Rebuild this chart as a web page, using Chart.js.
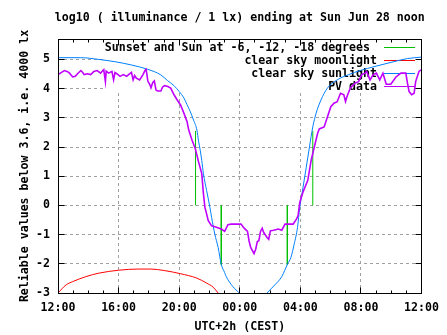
<!DOCTYPE html>
<html>
<head>
<meta charset="utf-8">
<script src="https://cdn.jsdelivr.net/npm/chart.js@4.4.1/dist/chart.umd.min.js"></script>
<style>
  html, body { margin: 0; padding: 0; background: #fff; }
  #wrap { width: 447px; height: 335px; position: relative; }
</style>
</head>
<body>
<div id="wrap"><canvas id="lux"></canvas></div>
<script>
// x values are hours after 12:00 (noon) on the previous day
const xTickHours = [0, 4, 8, 12, 16, 20, 24];
const xTickLabels = ["12:00", "16:00", "20:00", "00:00", "04:00", "08:00", "12:00"];
const yTicks = [-3, -2, -1, 0, 1, 2, 3, 4, 5];

// sunset, sun at -6 (dusk), sun at -6 (dawn), sunrise
const sunMarkHours = [9.08, 10.78, 15.14, 16.82];
const sunMarkTops = [2.55, -2.03, -2.03, 2.55];

const moonHours = [0, 0.54, 0.97, 1.84, 2.70, 4.0, 5.29, 6.13, 7.01, 8.09, 9.16, 9.81, 10.24, 10.57];
const moonLog = [-3.0, -2.72, -2.61, -2.44, -2.32, -2.22, -2.18, -2.18, -2.23, -2.34, -2.49, -2.66, -2.8, -3.0];

const sunHours = [0, 1.5, 2.7, 3.78, 4.85, 5.93, 6.79, 7.22, 7.66, 8.0, 8.31, 8.52, 8.74, 8.95, 9.17, 9.28,
  9.39, 9.49, 9.60, 9.81, 10.03, 10.14, 10.35, 10.57, 10.78, 11.0, 11.11, 11.54, 11.97, 12.9,
  13.80, 14.32, 14.77, 15.16, 15.37, 15.59, 15.81, 15.96, 16.17, 16.39, 16.60, 16.82, 17.04, 17.36,
  17.79, 18.43, 19.19, 19.95, 20.92, 21.99, 23.07, 24];
const sunLog = [5.06, 5.06, 5.0, 4.92, 4.81, 4.66, 4.47, 4.28, 4.1, 3.9, 3.68, 3.45, 3.2, 2.92, 2.58, 2.2,
  1.89, 1.54, 1.09, 0.51, -0.07, -0.41, -0.98, -1.44, -2.02, -2.3, -2.44, -2.78, -3.0, -3.6,
  -3.0, -2.72, -2.44, -2.0, -1.79, -1.33, -0.76, -0.07, 0.6, 1.31, 2.0, 2.69, 3.16, 3.61,
  4.02, 4.30, 4.48, 4.62, 4.76, 4.9, 5.03, 5.08];

const pvHours = [0, 0.21, 0.43, 0.63, 0.76, 0.97, 1.14, 1.29, 1.51, 1.63, 1.73, 1.94, 2.16, 2.37, 2.59, 2.81,
  2.96, 3.02, 3.13, 3.18, 3.34, 3.56, 3.67, 3.76, 3.88, 4.10, 4.31, 4.53, 4.70, 4.85, 4.96, 5.06,
  5.17, 5.39, 5.61, 5.74, 5.82, 5.93, 6.06, 6.14, 6.25, 6.36, 6.47, 6.58, 6.79, 6.90, 7.03, 7.22,
  7.44, 7.66, 7.87, 8.09, 8.31, 8.52, 8.63, 8.85, 9.06, 9.28, 9.49, 9.60, 9.70, 9.81, 9.92, 10.14,
  10.46, 10.78, 11.00, 11.22, 11.43, 12.08, 12.29, 12.51, 12.61, 12.72, 12.94, 13.05, 13.16, 13.26,
  13.37, 13.48, 13.58, 13.80, 13.91, 14.02, 14.23, 14.55, 14.77, 14.99, 15.52, 15.74, 15.85, 15.96,
  16.17, 16.49, 16.71, 16.92, 17.14, 17.25, 17.57, 17.79, 18.01, 18.22, 18.43, 18.65, 18.87, 18.98,
  19.08, 19.30, 19.62, 19.84, 20.05, 20.27, 20.37, 20.60, 20.81, 21.02, 21.24, 21.45, 21.67, 21.97,
  22.31, 22.64, 22.96, 23.07, 23.18, 23.35, 23.51, 23.61, 23.83, 24.0];
const pvLog = [4.48, 4.55, 4.62, 4.58, 4.53, 4.40, 4.42, 4.51, 4.62, 4.55, 4.48, 4.51, 4.48, 4.59, 4.62, 4.53,
  4.62, 4.65, 4.24, 4.60, 4.53, 4.59, 4.30, 4.55, 4.51, 4.42, 4.48, 4.42, 4.50, 4.56, 4.30, 4.45,
  4.36, 4.30, 4.48, 4.62, 4.66, 4.26, 4.14, 4.03, 4.20, 4.26, 3.95, 3.92, 3.92, 4.05, 4.10, 4.08,
  4.02, 3.79, 3.61, 3.44, 3.16, 2.87, 2.58, 2.23, 1.95, 1.49, 1.09, 0.40, -0.07, -0.29, -0.52, -0.70,
  -0.75, -0.81, -0.89, -0.66, -0.64, -0.64, -0.78, -0.89, -1.21, -1.44, -1.65, -1.50, -1.24, -1.21,
  -0.89, -0.78, -0.93, -1.10, -1.16, -0.87, -0.85, -0.81, -0.85, -0.64, -0.64, -0.47, -0.35, 0.10,
  0.45, 0.86, 1.54, 2.00, 2.47, 2.62, 2.69, 3.04, 3.38, 3.50, 3.55, 3.84, 3.79, 3.56,
  3.73, 4.02, 4.19, 4.24, 4.48, 4.53, 4.59, 4.30, 4.48, 4.53, 4.30, 4.53, 4.15, 4.15,
  4.40, 4.53, 4.53, 4.19, 3.90, 3.79, 3.84, 4.24, 4.59, 4.65];

const legendLabels = ["Sunset and Sun at -6, -12, -18 degrees ", "clear sky moonlight", "clear sky sunlight", "PV data"];
const seriesColors = ["#00c000", "#ff0000", "#0080ff", "#c000ff"];

const FONT = { family: "'DejaVu Sans Mono', monospace", size: 11.6, weight: "bold" };
const fontStr = "bold 11.6px 'DejaVu Sans Mono', monospace";

const pts = (xs, ys) => xs.map((h, i) => ({ x: h, y: ys[i] }));

const sunMarks = [];
sunMarkHours.forEach((h, i) => {
    sunMarks.push({ x: h, y: 0 }, { x: h, y: sunMarkTops[i] }, { x: h, y: null });
});

// key box (opaque), title, border and tics in gnuplot style
const gnuFrame = {
    id: "gnuFrame",
    beforeDatasetsDraw(chart) {
        const ctx = chart.ctx;
        const a = chart.chartArea;
        ctx.save();
        // key background hides the grid
        ctx.fillStyle = "#fff";
        ctx.fillRect(105, a.top, a.right - 105, 92 - a.top);
        ctx.font = fontStr;
        ctx.textBaseline = "middle";
        ctx.textAlign = "right";
        ctx.fillStyle = "#000";
        legendLabels.forEach((t, i) => {
            const y = 47 + i * 13;
            ctx.fillText(t, 377, y + 1);
            ctx.strokeStyle = seriesColors[i];
            ctx.lineWidth = 1;
            ctx.beginPath();
            ctx.moveTo(384, y + 0.5);
            ctx.lineTo(415, y + 0.5);
            ctx.stroke();
        });
        ctx.restore();
    },
    afterDatasetsDraw(chart) {
        const ctx = chart.ctx;
        const a = chart.chartArea;
        const xs = chart.scales.x, ys = chart.scales.y;
        const L = Math.floor(a.left) + 0.5, R = Math.floor(a.right) + 0.5;
        const T = Math.floor(a.top) + 0.5, B = Math.floor(a.bottom) + 0.5;
        ctx.save();
        ctx.strokeStyle = "#000";
        ctx.lineWidth = 1;
        ctx.beginPath();
        for (let h = 0; h <= 24; h++) {
            const px = Math.floor(xs.getPixelForValue(h)) + 0.5;
            const len = h % 4 === 0 ? 6 : 3;
            ctx.moveTo(px, B); ctx.lineTo(px, B - len);
            ctx.moveTo(px, T); ctx.lineTo(px, T + len);
        }
        yTicks.forEach(v => {
            const py = Math.floor(ys.getPixelForValue(v)) + 0.5;
            ctx.moveTo(L, py); ctx.lineTo(L + 6, py);
            ctx.moveTo(R, py); ctx.lineTo(R - 6, py);
        });
        ctx.stroke();
        ctx.strokeRect(L, T, R - L, B - T);
        // title centred over the plot
        ctx.font = fontStr;
        ctx.fillStyle = "#000";
        ctx.textAlign = "center";
        ctx.textBaseline = "middle";
        ctx.fillText("log10 ( illuminance / 1 lx) ending at Sun Jun 28 noon", (a.left + a.right) / 2, 18);
        ctx.restore();
    }
};

new Chart(document.getElementById("lux"), {
    type: "line",
    data: {
        datasets: [
            {
                label: legendLabels[0],
                data: sunMarks,
                borderColor: seriesColors[0],
                borderWidth: 1,
                pointRadius: 0,
                spanGaps: false,
                order: 4
            },
            {
                label: legendLabels[1],
                data: pts(moonHours, moonLog),
                borderColor: seriesColors[1],
                borderWidth: 1,
                pointRadius: 0,
                cubicInterpolationMode: "monotone",
                order: 3
            },
            {
                label: legendLabels[2],
                data: pts(sunHours, sunLog),
                borderColor: seriesColors[2],
                borderWidth: 1,
                pointRadius: 0,
                cubicInterpolationMode: "monotone",
                order: 2
            },
            {
                label: legendLabels[3],
                data: pts(pvHours, pvLog),
                borderColor: seriesColors[3],
                borderWidth: 1.6,
                pointRadius: 0,
                order: 1
            }
        ]
    },
    options: {
        responsive: true,
        maintainAspectRatio: false,
        animation: false,
        layout: { padding: { top: 39, right: 18, left: 0, bottom: 0 } },
        plugins: {
            legend: { display: false },
            tooltip: { enabled: false }
        },
        scales: {
            x: {
                type: "linear",
                min: 0,
                max: 24,
                afterBuildTicks: s => { s.ticks = xTickHours.map(v => ({ value: v })); },
                afterFit: s => { s.height = 42; },
                ticks: {
                    callback: (v, i) => xTickLabels[i],
                    font: FONT,
                    color: "#000",
                    padding: 8,
                    maxRotation: 0,
                    autoSkip: false
                },
                grid: {
                    color: c => (c.index === 0 || c.index === xTickHours.length - 1) ? "rgba(0,0,0,0)" : "#a0a0a0",
                    lineWidth: 1,
                    drawTicks: false
                },
                border: { display: false, dash: [3, 3] },
                title: {
                    display: true,
                    text: "UTC+2h (CEST)",
                    font: FONT,
                    color: "#000",
                    padding: { top: 0, bottom: 1 }
                }
            },
            y: {
                min: -3,
                max: 5.7,
                afterBuildTicks: s => { s.ticks = yTicks.map(v => ({ value: v })); },
                afterFit: s => { s.width = 58; },
                ticks: {
                    font: FONT,
                    color: "#000",
                    padding: 8
                },
                grid: {
                    color: c => c.index === 0 ? "rgba(0,0,0,0)" : "#a0a0a0",
                    lineWidth: 1,
                    drawTicks: false
                },
                border: { display: false, dash: [3, 3] },
                title: {
                    display: true,
                    text: "Reliable values below 3.6, i.e. 4000 lx",
                    font: FONT,
                    color: "#000",
                    padding: { top: 18, bottom: 0 }
                }
            }
        }
    },
    plugins: [gnuFrame]
});
</script>
</body>
</html>
